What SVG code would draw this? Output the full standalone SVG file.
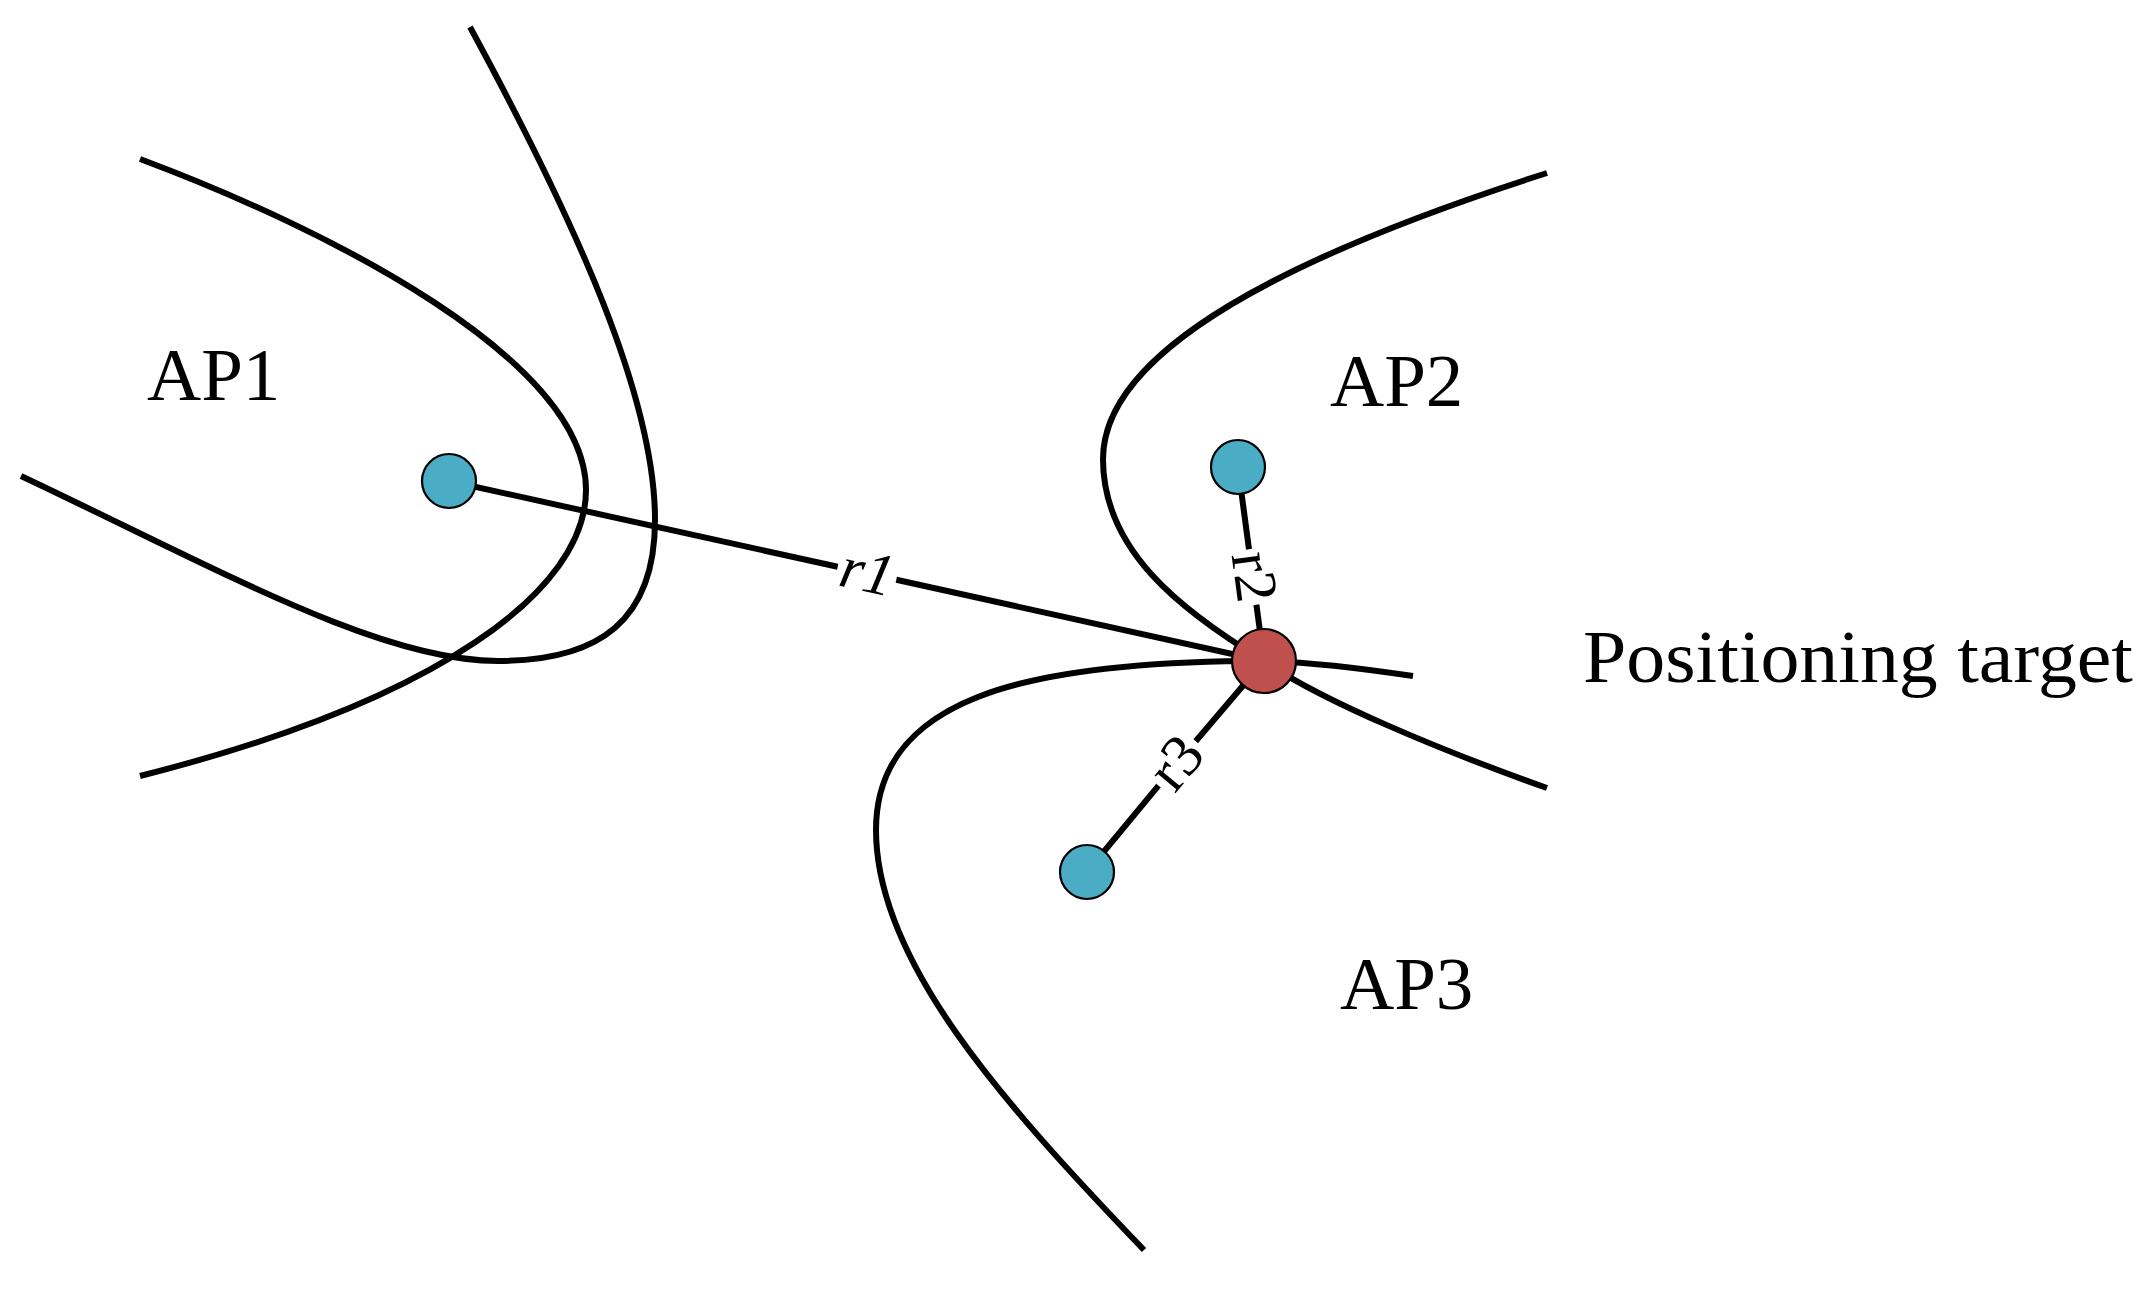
<svg xmlns="http://www.w3.org/2000/svg" width="2149" height="1289" viewBox="0 0 2149 1289">
<style>
.curve{fill:none;stroke:#000;stroke-width:6;stroke-linecap:butt}
.conn{fill:none;stroke:#000;stroke-width:6}
.ap{fill:#4BACC6;stroke:#000;stroke-width:2.2}
.tg{fill:#C0504D;stroke:#000;stroke-width:2.2}
.lbl{font-family:"Liberation Serif","Times New Roman",serif;font-size:75px;fill:#000}
.rl{font-family:"Liberation Serif","Times New Roman",serif;font-size:60px;fill:#000;text-anchor:middle}
</style>
<rect width="2149" height="1289" fill="#fff"/>
<g id="curves">
<path class="curve" d="M140,159 C330,230 586,360 586,490 C586,590 440,700 140,776"/>
<path class="curve" d="M470,27 C580,230 655,400 655,520 C655,620 600,661 498,661 C380,661 220,570 21,476"/>
<path class="curve" d="M1547,173 C1290,255 1103,350 1103,459 C1103,550 1180,610 1264,661 C1320,700 1440,750 1547,788"/>
<path class="curve" d="M1413,676 C1360,668 1310,662 1264,661 C1020,661 876,700 876,830 C876,960 1000,1100 1144,1250"/>
</g>
<g id="connectors">
<line class="conn" x1="449" y1="481" x2="837.7" y2="566.8"/>
<line class="conn" x1="896.3" y1="579.8" x2="1264" y2="661"/>
<text class="rl" font-style="italic" transform="translate(867,573.3) rotate(12.45)" x="0" y="18">r1</text>
<line class="conn" x1="1238" y1="467" x2="1249" y2="549.25"/>
<line class="conn" x1="1256.4" y1="604.75" x2="1264" y2="661"/>
<text class="rl" transform="translate(1252.7,577) rotate(82.37)" x="0" y="18">r2</text>
<line class="conn" x1="1087" y1="872" x2="1158.5" y2="785.7"/>
<line class="conn" x1="1195.7" y1="741.3" x2="1264" y2="661"/>
<text class="rl" transform="translate(1177.1,763.5) rotate(-50)" x="0" y="18">r3</text>
</g>
<g id="ap1"><circle class="ap" cx="449" cy="481" r="27"/><text class="lbl" x="147" y="400">AP1</text></g>
<g id="ap2"><circle class="ap" cx="1238" cy="467" r="27"/><text class="lbl" x="1330" y="406">AP2</text></g>
<g id="ap3"><circle class="ap" cx="1087" cy="872" r="27"/><text class="lbl" x="1340" y="1009">AP3</text></g>
<g id="target"><circle class="tg" cx="1264" cy="661" r="32"/><text class="lbl" x="1583" y="682" textLength="550" lengthAdjust="spacingAndGlyphs">Positioning target</text></g>
</svg>
